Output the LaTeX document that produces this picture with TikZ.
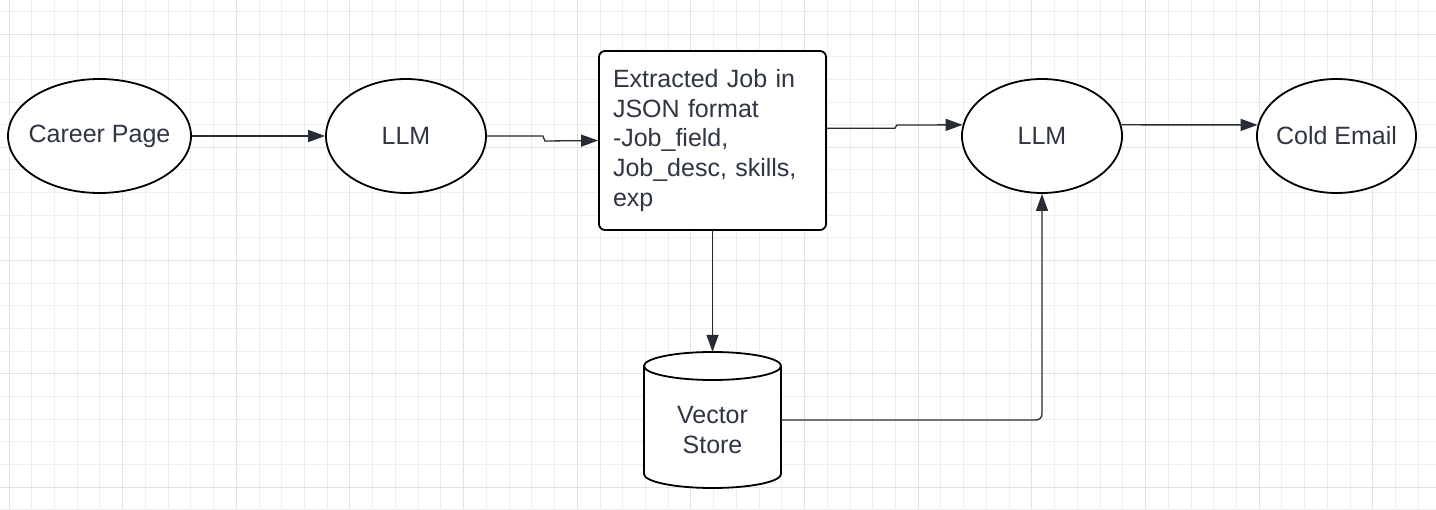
\documentclass[tikz,border=0pt]{standalone}
\usepackage{fontspec}
\setmainfont{Liberation Sans}
\usetikzlibrary{shapes.geometric,arrows.meta,calc}
\definecolor{txtc}{RGB}{47,53,65}
\definecolor{linec}{RGB}{40,44,52}
\definecolor{gridminor}{RGB}{238,238,238}
\definecolor{gridmajor}{RGB}{226,226,226}
\tikzset{
  oval/.style={ellipse, draw=black, line width=1.8pt, fill=white, inner sep=0pt},
  ovaltext/.style={text=txtc, inner sep=0pt, font=\fontsize{25}{29.8}\selectfont},
  conn/.style={draw=linec, line width=1.3pt, -{Triangle[length=17pt,width=12pt]}},
  shapeline/.style={draw=black, line width=1.8pt},
  gline/.style={draw=gridminor, line width=0.9pt},
  gmajor/.style={draw=gridmajor, line width=1pt},
}
\begin{document}
\begin{tikzpicture}[x=1pt,y=-1pt]
\useasboundingbox (0,0) rectangle (1436,510);
\fill[white] (0,0) rectangle (1436,510);
% grid
\foreach \i in {0,...,63} {
  \pgfmathtruncatemacro{\m}{mod(\i,5)}
  \ifnum\m=0
    \draw[gmajor] ({9+22.73*\i},0) -- ({9+22.73*\i},510);
  \else
    \draw[gline] ({9+22.73*\i},0) -- ({9+22.73*\i},510);
  \fi
}
\foreach \j in {0,...,22} {
  \pgfmathtruncatemacro{\m}{mod(\j+4,5)}
  \ifnum\m=0
    \draw[gmajor] (0,{11.4+22.65*\j}) -- (1436,{11.4+22.65*\j});
  \else
    \draw[gline] (0,{11.4+22.65*\j}) -- (1436,{11.4+22.65*\j});
  \fi
}
% nodes
\node[oval, minimum width=183pt, minimum height=114pt,
  label={[ovaltext]center:Career Page}] (cp) at (99.5,136) {};
\node[oval, minimum width=160pt, minimum height=114pt,
  label={[ovaltext]center:LLM}] (llm1) at (406,136) {};
\node[draw=black, line width=1.8pt, fill=white, rounded corners=6pt, minimum width=227pt,
  minimum height=179pt, text width=199pt, inner xsep=14pt, inner ysep=0pt, align=left, text=txtc,
  font=\fontsize{25}{29.8}\selectfont] (box) at (712.5,140.5)
  {Extracted Job in\\JSON format\\-Job\_field,\\Job\_desc, skills,\\exp};
\node[oval, minimum width=160pt, minimum height=114pt,
  label={[ovaltext]center:LLM}] (llm2) at (1042,136) {};
\node[oval, minimum width=159pt, minimum height=114pt,
  label={[ovaltext]center:Cold Email}] (cold) at (1336.5,136) {};
% vector store cylinder
\node[minimum width=137pt, minimum height=136pt, inner sep=0pt] (vs) at (712.5,420) {};
\fill[white] (644,366) -- (644,474) arc[start angle=180, end angle=360, x radius=68.5pt, y radius=14pt] -- (781,366) -- cycle;
\draw[shapeline] (644,366) -- (644,474) arc[start angle=180, end angle=360, x radius=68.5pt, y radius=14pt] -- (781,366);
\draw[shapeline, fill=white] (712.5,366) ellipse[x radius=68.5pt, y radius=14pt];
\node[text=txtc, align=center, font=\fontsize{25}{29.8}\selectfont] (vst) at (712.5,430) {Vector\\Store};
% connectors
\draw[conn] (cp.east) -- (llm1.west);
\draw[conn] (llm1.east) -- ++(56,0) -- ++(2,5) -- (box.west);
\draw[conn] ($(box.east)+(0,-12.2)$) -- ++(68,0) -- ++(2,-3.3) -- (llm2.172);
\draw[conn] (llm2.8) -- (cold.172);
\draw[conn] (box.south) -- (vs.north);
\draw[conn, rounded corners=6pt] (vs.east) -| (llm2.south);
\end{tikzpicture}
\end{document}
